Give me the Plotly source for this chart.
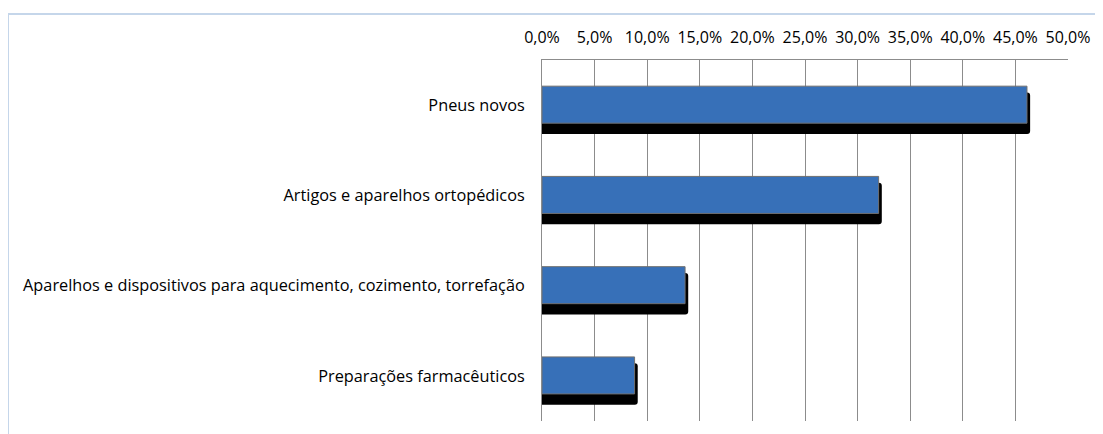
import plotly.graph_objects as go

categorias = [
    "Pneus novos",
    "Artigos e aparelhos ortopédicos",
    "Aparelhos e dispositivos para aquecimento, cozimento, torrefação",
    "Preparações farmacêuticos",
]
participacao = [0.461, 0.320, 0.136, 0.088]
ticks = [0.0, 0.05, 0.10, 0.15, 0.20, 0.25, 0.30, 0.35, 0.40, 0.45, 0.50]

fig = go.Figure()

# sombra preta (estilo 3D do Excel)
fig.add_trace(go.Bar(
    y=categorias,
    x=[v + 0.003 for v in participacao],
    orientation="h",
    width=0.46,
    offset=-0.14,
    marker=dict(color="black", cornerradius=3, line=dict(width=0)),
    hoverinfo="skip",
    showlegend=False,
))

fig.add_trace(go.Bar(
    y=categorias,
    x=participacao,
    orientation="h",
    width=0.41,
    offset=-0.21,
    marker=dict(color="#3770B8", line=dict(color="#707070", width=1)),
    showlegend=False,
))

fig.update_layout(
    barmode="overlay",
    width=1095,
    height=426,
    margin=dict(l=534, r=35, t=52, b=13),
    paper_bgcolor="white",
    plot_bgcolor="white",
    separators=",.",
    font=dict(family="Open Sans, Liberation Sans, sans-serif", size=16, color="black"),
    xaxis=dict(
        side="top",
        range=[0, 0.5],
        tickvals=ticks,
        tickformat=".1%",
        tickfont=dict(size=16),
        showgrid=True,
        gridcolor="#8c8c8c",
        gridwidth=1,
        showline=True,
        linecolor="#8c8c8c",
        linewidth=1,
        zeroline=False,
        ticks="",
        ticklabelstandoff=10,
    ),
    yaxis=dict(
        autorange="reversed",
        tickfont=dict(size=16.3),
        showline=True,
        linecolor="#8c8c8c",
        linewidth=1,
        showgrid=False,
        ticks="",
        ticklabelstandoff=13,
    ),
    shapes=[
        dict(type="line", xref="paper", yref="paper",
             x0=(0 - 534) / 526, x1=(1095 - 534) / 526,
             y0=(413 - 6) / 361, y1=(413 - 6) / 361,
             line=dict(color="#c5d6ea", width=2)),
        dict(type="line", xref="paper", yref="paper",
             x0=(0 - 534) / 526, x1=(0 - 534) / 526,
             y0=(413 - 6) / 361, y1=(413 - 440) / 361,
             line=dict(color="#c5d6ea", width=2)),
    ],
)

fig.write_html("out.html")
